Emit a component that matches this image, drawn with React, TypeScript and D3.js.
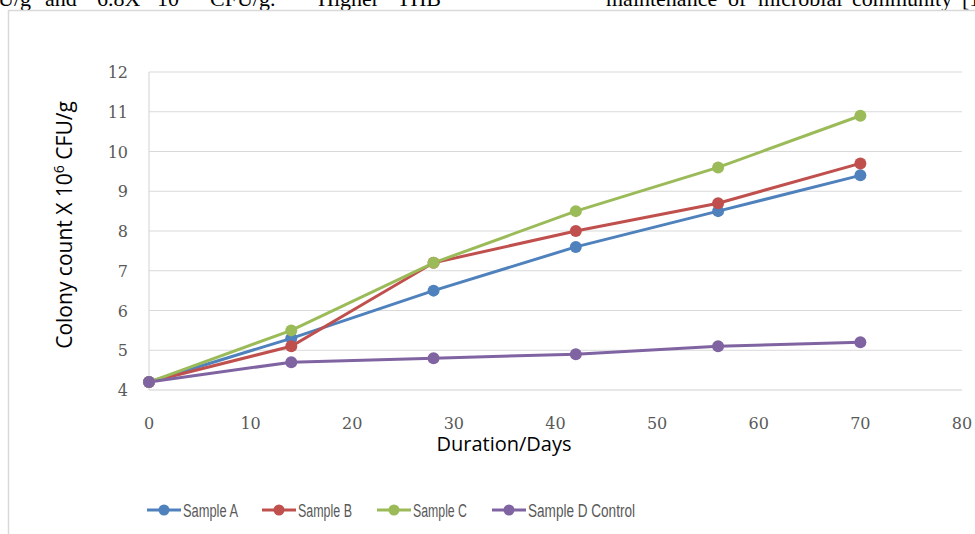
import React from "react";
import * as d3 from "d3";

const days = [0, 14, 28, 42, 56, 70];
const seriesNames = ["Sample A", "Sample B", "Sample C", "Sample D Control"];
const sampleA = [4.2, 5.3, 6.5, 7.6, 8.5, 9.4];
const sampleB = [4.2, 5.1, 7.2, 8.0, 8.7, 9.7];
const sampleC = [4.2, 5.5, 7.2, 8.5, 9.6, 10.9];
const sampleD = [4.2, 4.7, 4.8, 4.9, 5.1, 5.2];
const xTicks = [0, 10, 20, 30, 40, 50, 60, 70, 80];
const yTicks = [4, 5, 6, 7, 8, 9, 10, 11, 12];
const colors = ["#4F81BD", "#C0504D", "#9BBB59", "#8064A2"];

// clipped page text above the chart (word, x)
const topWordsLeft: [string, number][] = [
  ["U/g", -2],
  ["and", 45],
  ["6.8X", 97],
  ["10", 157],
  ["CFU/g.", 210],
  ["Higher", 318],
  ["THB", 397],
];
const topWordsRight: [string, number][] = [
  ["maintenance", 606],
  ["of", 728],
  ["microbial", 758],
  ["community", 852],
  ["[1", 962],
];

const W = 975;
const H = 534;

export default function App() {
  const x = d3.scaleLinear().domain([0, 80]).range([149, 962]);
  const y = d3.scaleLinear().domain([4, 12]).range([390, 72]);
  const all = [sampleA, sampleB, sampleC, sampleD];
  const line = d3
    .line<number>()
    .x((_, i) => x(days[i]))
    .y((v) => y(v));

  const legendX = [147, 262, 377, 492];
  const legendTextW = [55, 54, 54, 107];

  return (
    <svg
      width={W}
      height={H}
      style={{ position: "absolute", left: 0, top: 0, background: "#fff" }}
    >
      <rect x={0} y={0} width={W} height={H} fill="#fff" />
      <text
        y={6}
        fontFamily="Liberation Serif, Times New Roman, serif"
        fontSize={22}
        fill="#000"
      >
        {topWordsLeft.map(([w, px]) => (
          <tspan key={w} x={px} y={6}>
            {w}
          </tspan>
        ))}
        <tspan x={180} y={-2} fontSize={14}>
          6
        </tspan>
      </text>
      <text
        y={6}
        fontFamily="Liberation Serif, Times New Roman, serif"
        fontSize={22}
        fill="#000"
      >
        {topWordsRight.map(([w, px]) => (
          <tspan key={w} x={px} y={6}>
            {w}
          </tspan>
        ))}
      </text>
      {/* chart frame */}
      <rect
        x={8.5}
        y={10.5}
        width={W}
        height={H}
        fill="none"
        stroke="#d9d9d9"
        strokeWidth={1.5}
      />
      {/* gridlines */}
      {yTicks.map((t) => (
        <line
          key={"g" + t}
          x1={x(0)}
          x2={x(80)}
          y1={y(t)}
          y2={y(t)}
          stroke={t === 4 ? "#d0d0d0" : "#d9d9d9"}
          strokeWidth={1.2}
        />
      ))}
      <line x1={x(0)} x2={x(0)} y1={y(12)} y2={y(4)} stroke="#d9d9d9" strokeWidth={1.2} />
      {/* y tick labels */}
      {yTicks.map((t) => (
        <text
          key={"yt" + t}
          x={128}
          y={y(t) + 6}
          textAnchor="end"
          fontFamily="DejaVu Serif, serif"
          fontSize={16}
          fill="#595959"
        >
          {t}
        </text>
      ))}
      {/* x tick labels */}
      {xTicks.map((t) => (
        <text
          key={"xt" + t}
          x={x(t)}
          y={429}
          textAnchor="middle"
          fontFamily="DejaVu Serif, serif"
          fontSize={16}
          fill="#595959"
        >
          {t}
        </text>
      ))}
      {/* axis titles */}
      <text
        x={504}
        y={451}
        textAnchor="middle"
        fontFamily="Open Sans, sans-serif"
        fontSize={20}
        fill="#000"
      >
        Duration/Days
      </text>
      <text
        transform="translate(72,225) rotate(-90)"
        textAnchor="middle"
        fontFamily="Open Sans, sans-serif"
        fontSize={21}
        fill="#000"
      >
        Colony count X 10<tspan fontSize={14} dy={-8}>6</tspan>
        <tspan dy={8}> CFU/g</tspan>
      </text>
      {/* series */}
      {all.map((s, si) => (
        <g key={"s" + si}>
          <path d={line(s) || ""} fill="none" stroke={colors[si]} strokeWidth={3} />
        </g>
      ))}
      {all.map((s, si) => (
        <g key={"m" + si}>
          {s.map((v, i) => (
            <circle key={i} cx={x(days[i])} cy={y(v)} r={6} fill={colors[si]} />
          ))}
        </g>
      ))}
      {/* legend */}
      {seriesNames.map((n, i) => (
        <g key={"l" + i}>
          <line
            x1={legendX[i]}
            x2={legendX[i] + 34}
            y1={510}
            y2={510}
            stroke={colors[i]}
            strokeWidth={3}
          />
          <circle cx={legendX[i] + 17} cy={510} r={5.5} fill={colors[i]} />
          <text
            x={legendX[i] + 36}
            y={517}
            fontFamily="Liberation Sans, Arial, sans-serif"
            fontSize={18}
            fill="#595959"
            textLength={legendTextW[i]}
            lengthAdjust="spacingAndGlyphs"
          >
            {n}
          </text>
        </g>
      ))}
    </svg>
  );
}
